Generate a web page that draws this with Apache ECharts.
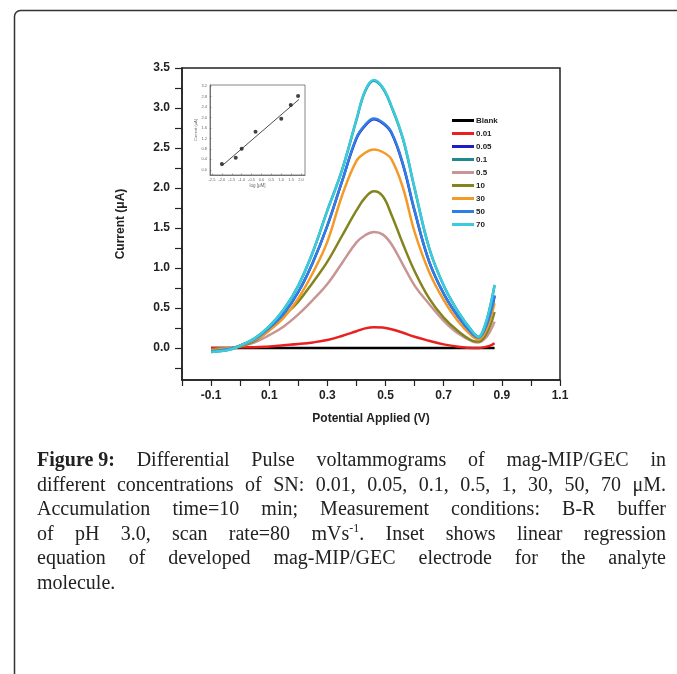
<!DOCTYPE html>
<html>
<head>
<meta charset="utf-8">
<script src="https://cdn.jsdelivr.net/npm/echarts@6/dist/echarts.min.js"></script>
<style>
  body { margin: 0; background: #fff; }
  #main { width: 677px; height: 674px; }
  #caption {
    position: absolute; left: 37px; top: 447px; width: 629px;
    font-family: "Liberation Serif", "DejaVu Serif", serif; font-size: 20px;
    line-height: 24.6px; color: #222;
  }
  #caption div { text-align: justify; text-align-last: justify; white-space: nowrap; }
  #caption div.last { text-align-last: left; }
  #caption .fig { display: inline-block; font-weight: bold; }
  #caption sup { font-size: 12px; line-height: 0; }
</style>
</head>
<body>
<div id="main"></div>
<div id="caption">
  <div><span class="fig">Figure 9:</span> Differential Pulse voltammograms of mag-MIP/GEC in</div>
  <div>different concentrations of SN: 0.01, 0.05, 0.1, 0.5, 1, 30, 50, 70 μM.</div>
  <div>Accumulation time=10 min; Measurement conditions: B-R buffer</div>
  <div>of pH 3.0, scan rate=80 mVs<sup>-1</sup>. Inset shows linear regression</div>
  <div>equation of developed mag-MIP/GEC electrode for the analyte</div>
  <div class="last">molecule.</div>
</div>
<script>
// potential (V) grid shared by every curve
var potential = [-0.1, -0.075, -0.05, -0.025, 0, 0.05, 0.1, 0.15, 0.2, 0.25, 0.3, 0.35, 0.4, 0.43, 0.46, 0.49, 0.52, 0.56, 0.6, 0.65, 0.7, 0.75, 0.8, 0.82, 0.84, 0.86, 0.875];

// current (uA) per concentration
var cBlank = [0, 0, 0, 0, 0, 0, 0, 0, 0, 0, 0, 0, 0, 0, 0, 0, 0, 0, 0, 0, 0, 0, 0, 0, 0, 0, 0];
var c001 = [0, 0, 0, 0, 0.01, 0.01, 0.02, 0.035, 0.05, 0.07, 0.1, 0.15, 0.21, 0.245, 0.26, 0.255, 0.235, 0.19, 0.14, 0.09, 0.045, 0.015, 0, 0, 0.01, 0.03, 0.06];
var c005 = [-0.04, -0.03, -0.02, 0, 0.03, 0.11, 0.25, 0.43, 0.7, 1.07, 1.53, 2.08, 2.62, 2.78, 2.86, 2.81, 2.69, 2.29, 1.71, 1.08, 0.68, 0.39, 0.17, 0.13, 0.22, 0.42, 0.65];
var c01 = [-0.05, -0.04, -0.03, -0.01, 0.03, 0.12, 0.27, 0.48, 0.78, 1.2, 1.72, 2.22, 2.85, 3.21, 3.34, 3.25, 3.02, 2.61, 1.99, 1.25, 0.78, 0.45, 0.2, 0.14, 0.26, 0.52, 0.78];
var c05 = [-0.02, -0.01, 0, 0, 0.02, 0.07, 0.16, 0.27, 0.42, 0.6, 0.8, 1.06, 1.32, 1.41, 1.45, 1.42, 1.3, 1.04, 0.78, 0.55, 0.34, 0.18, 0.08, 0.07, 0.11, 0.21, 0.33];
var c10 = [-0.02, -0.01, -0.01, 0, 0.02, 0.09, 0.22, 0.4, 0.58, 0.82, 1.08, 1.4, 1.72, 1.88, 1.96, 1.9, 1.67, 1.3, 0.96, 0.62, 0.38, 0.21, 0.09, 0.08, 0.14, 0.28, 0.45];
var c30 = [-0.03, -0.02, -0.01, 0, 0.03, 0.1, 0.22, 0.38, 0.62, 0.94, 1.33, 1.9, 2.34, 2.44, 2.48, 2.45, 2.36, 2.0, 1.45, 0.95, 0.6, 0.33, 0.14, 0.11, 0.18, 0.36, 0.56];
var c50 = [-0.04, -0.03, -0.02, 0, 0.03, 0.11, 0.25, 0.43, 0.7, 1.07, 1.53, 2.08, 2.63, 2.79, 2.87, 2.82, 2.7, 2.3, 1.72, 1.08, 0.68, 0.39, 0.17, 0.13, 0.22, 0.42, 0.66];
var c70 = [-0.05, -0.04, -0.03, -0.01, 0.03, 0.12, 0.27, 0.48, 0.78, 1.2, 1.72, 2.22, 2.86, 3.22, 3.35, 3.26, 3.03, 2.62, 2.0, 1.25, 0.78, 0.45, 0.2, 0.14, 0.26, 0.52, 0.79];

var seriesNames = ['Blank', '0.01', '0.05', '0.1', '0.5', '10', '30', '50', '70'];
var seriesData = [cBlank, c001, c005, c01, c05, c10, c30, c50, c70];
var seriesColors = ['#000000', '#e82020', '#1c1cc8', '#1f8a8a', '#c99494', '#84841e', '#f39a28', '#2f7fe3', '#3ccbdc'];

// main axis ticks / labels
var xTicks = [-0.2, -0.1, 0, 0.1, 0.2, 0.3, 0.4, 0.5, 0.6, 0.7, 0.8, 0.9, 1.0, 1.1];
var xLabels = [-0.1, 0.1, 0.3, 0.5, 0.7, 0.9, 1.1];
var yTicks = [-0.25, 0, 0.25, 0.5, 0.75, 1.0, 1.25, 1.5, 1.75, 2.0, 2.25, 2.5, 2.75, 3.0, 3.25, 3.5];
var yLabels = [0, 0.5, 1.0, 1.5, 2.0, 2.5, 3.0, 3.5];

// inset: peak current vs log concentration
var insetLogC = [-2.0, -1.3, -1.0, -0.3, 1.0, 1.48, 1.85];
var insetCurrent = [0.22, 0.46, 0.81, 1.46, 1.96, 2.48, 2.83];
var fitLogC = [-2.0, 1.9];
var fitCurrent = [0.15, 2.7];
var insetXLabels = [-2.5, -2.0, -1.5, -1.0, -0.5, 0.0, 0.5, 1.0, 1.5, 2.0];
var insetYLabels = [0.0, 0.4, 0.8, 1.2, 1.6, 2.0, 2.4, 2.8, 3.2];

var chart = echarts.init(document.getElementById('main'));
var fmt1 = function (v) { return v.toFixed(1); };
var boldLbl = { fontFamily: 'Liberation Sans', fontWeight: 'bold', fontSize: 12, color: '#222' };

var series = [];
for (var i = 0; i < seriesNames.length; i++) {
    series.push({
        name: seriesNames[i],
        type: 'line',
        xAxisIndex: 0, yAxisIndex: 0,
        data: potential.map(function (v, k) { return [v, seriesData[i][k]]; }),
        showSymbol: false,
        smooth: 0.4,
        color: seriesColors[i],
        lineStyle: { width: 2.5, color: seriesColors[i] },
        animation: false
    });
}
series.push({
    type: 'scatter', xAxisIndex: 1, yAxisIndex: 1,
    data: insetLogC.map(function (v, k) { return [v, insetCurrent[k]]; }),
    symbolSize: 4, itemStyle: { color: '#111' }, animation: false
});
series.push({
    type: 'line', xAxisIndex: 1, yAxisIndex: 1,
    data: fitLogC.map(function (v, k) { return [v, fitCurrent[k]]; }),
    showSymbol: false, lineStyle: { width: 0.8, color: '#222' }, animation: false
});

var option = {
    animation: false,
    graphic: [{
        type: 'rect', left: 12, top: 8, z: -1,
        shape: { width: 700, height: 700, r: [6, 0, 0, 0] },
        style: { fill: 'none', stroke: '#333', lineWidth: 1.5 }
    }],
    grid: [
        { left: 182, right: 117, top: 68, bottom: 294, show: true, borderColor: '#222', borderWidth: 1.5 },
        { left: 210, top: 85, width: 95, height: 90, show: true, borderColor: '#555', borderWidth: 0.7 }
    ],
    legend: {
        data: seriesNames,
        orient: 'vertical', left: 447, top: 111,
        icon: 'rect', itemWidth: 22, itemHeight: 3, itemGap: 4,
        textStyle: { fontFamily: 'Liberation Sans', fontSize: 8, fontWeight: 'bold', color: '#222', lineHeight: 9, padding: [0, 0, 0, -3] }
    },
    xAxis: [{
        type: 'value', gridIndex: 0, min: -0.2, max: 1.1,
        axisLine: { onZero: false, lineStyle: { color: '#222', width: 1.5 } },
        axisTick: { customValues: xTicks, length: 6, lineStyle: { color: '#222', width: 1.2 } },
        axisLabel: Object.assign({ customValues: xLabels, formatter: fmt1, margin: 10 }, boldLbl),
        splitLine: { show: false },
        name: 'Potential Applied (V)', nameLocation: 'middle', nameGap: 33,
        nameTextStyle: boldLbl
    }, {
        type: 'value', gridIndex: 1, min: -2.6, max: 2.2,
        axisLine: { onZero: false, lineStyle: { color: '#555', width: 0.7 } },
        axisTick: { customValues: insetXLabels, length: 1.5, inside: true, lineStyle: { color: '#555', width: 0.5 } },
        axisLabel: { customValues: insetXLabels, formatter: fmt1, fontSize: 4, color: '#666', margin: 3 },
        splitLine: { show: false },
        name: 'log [μM]', nameLocation: 'middle', nameGap: 8,
        nameTextStyle: { fontSize: 4.5, color: '#666' }
    }],
    yAxis: [{
        type: 'value', gridIndex: 0, min: -0.4, max: 3.5,
        axisLine: { show: true, onZero: false, lineStyle: { color: '#222', width: 1.5 } },
        axisTick: { show: true, customValues: yTicks, length: 7, lineStyle: { color: '#222', width: 1.2 } },
        axisLabel: Object.assign({ customValues: yLabels, formatter: fmt1, margin: 12 }, boldLbl),
        splitLine: { show: false },
        name: 'Current (μA)', nameLocation: 'middle', nameGap: 55,
        nameTextStyle: boldLbl
    }, {
        type: 'value', gridIndex: 1, min: -0.2, max: 3.25,
        axisLine: { show: true, onZero: false, lineStyle: { color: '#555', width: 0.7 } },
        axisTick: { show: true, customValues: insetYLabels, length: 1.5, inside: true, lineStyle: { color: '#555', width: 0.5 } },
        axisLabel: { customValues: insetYLabels, formatter: fmt1, fontSize: 4, color: '#666', margin: 3 },
        splitLine: { show: false },
        name: 'Current (μA)', nameLocation: 'middle', nameGap: 10,
        nameTextStyle: { fontSize: 4, color: '#666' }
    }],
    series: series
};
chart.setOption(option);
</script>
</body>
</html>
